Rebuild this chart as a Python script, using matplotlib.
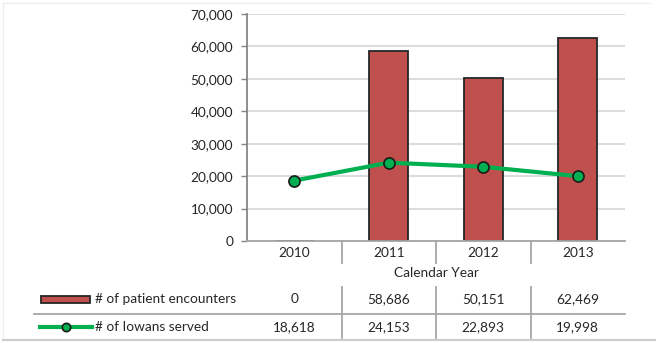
import matplotlib.pyplot as plt
import matplotlib.transforms as mtransforms
from matplotlib.patches import Rectangle
from matplotlib.lines import Line2D
import numpy as np

plt.rcParams['font.family'] = ['Lato', 'DejaVu Sans']

years = ['2010', '2011', '2012', '2013']
encounters = [0, 58686, 50151, 62469]
served = [18618, 24153, 22893, 19998]
enc_labels = ['0', '58,686', '50,151', '62,469']
served_labels = ['18,618', '24,153', '22,893', '19,998']

bar_color = '#C0504D'
line_color = '#00B050'
grid_color = '#D9D9D9'
axis_color = '#868686'
text_color = '#262626'
fs = 9.8

fig = plt.figure(figsize=(6.56, 3.43), dpi=100)
W, H = 656, 343
ax = fig.add_axes([247 / W, 1 - 241 / H, 378 / W, 227 / H])

x = np.arange(len(years))
ax.bar(x, encounters, width=0.41, color=bar_color, edgecolor='#262626', linewidth=1.3, zorder=2)
ax.plot(x, served, color=line_color, linewidth=3, marker='o', markersize=8,
        markerfacecolor=line_color, markeredgecolor='#1a1a1a', markeredgewidth=1.2, zorder=3)

ax.set_xlim(-0.5, 3.5)
ax.set_ylim(0, 70000)
ax.set_yticks(range(0, 70001, 10000))
ax.set_yticklabels([f'{v:,}' for v in range(0, 70001, 10000)], fontsize=fs, color=text_color)
ax.yaxis.grid(True, color=grid_color, linewidth=1.3, zorder=0)
ax.set_axisbelow(True)
ax.tick_params(axis='y', length=4, color=axis_color, width=1, pad=6)
ax.set_xticks([])
for s in ['top', 'right']:
    ax.spines[s].set_visible(False)
ax.spines['left'].set_color(axis_color)
ax.spines['left'].set_linewidth(1.3)
ax.spines['bottom'].set_color('#A6A6A6')
ax.spines['bottom'].set_linewidth(1.3)

# category labels and separators below the axis
trans = mtransforms.blended_transform_factory(ax.transData, fig.transFigure)
for i, yr in enumerate(years):
    fig.text(i, 1 - 253 / H, yr, transform=trans, ha='center', va='center', fontsize=fs, color=text_color)
for b in [0.5, 1.5, 2.5]:
    ax.add_line(Line2D([b, b], [1 - 241 / H, 1 - 263 / H], transform=trans, color='#A6A6A6',
                       linewidth=1.3, clip_on=False))
    ax.add_line(Line2D([b, b], [1 - 287 / H, 1 - 338 / H], transform=trans, color='#A6A6A6',
                       linewidth=1.3, clip_on=False))

fig.text(436 / W, 1 - 273 / H, 'Calendar Year', ha='center', va='center', fontsize=fs, color=text_color)

# data table
row1 = 1 - 299 / H
row2 = 1 - 327 / H
for i in range(len(years)):
    fig.text(i, row1, enc_labels[i], transform=trans, ha='center', va='center', fontsize=fs, color=text_color)
    fig.text(i, row2, served_labels[i], transform=trans, ha='center', va='center', fontsize=fs, color=text_color)

fig.add_artist(Line2D([34 / W, 625 / W], [1 - 314 / H, 1 - 314 / H], color='#A6A6A6', linewidth=1.3))

# legend keys in the table
fig.add_artist(Rectangle((41 / W, 1 - 303 / H), 49 / W, 7 / H, facecolor=bar_color,
                         edgecolor='#262626', linewidth=1.3))
fig.text(95 / W, row1, '# of patient encounters', ha='left', va='center', fontsize=fs, color=text_color)
fig.add_artist(Line2D([40 / W, 92 / W], [row2, row2], color=line_color, linewidth=3))
fig.add_artist(Line2D([66 / W], [row2], marker='o', markersize=6, color=line_color,
                      markerfacecolor=line_color, markeredgecolor='#1a1a1a', markeredgewidth=1.2))
fig.text(95 / W, row2, '# of Iowans served', ha='left', va='center', fontsize=fs, color=text_color)

# faint frame
fig.add_artist(Line2D([3 / W, 650 / W], [1 - 3 / H, 1 - 3 / H], color='#EEEEEE', linewidth=1))
fig.add_artist(Line2D([3 / W, 3 / W], [1 - 3 / H, 1 - 340 / H], color='#EEEEEE', linewidth=1))
fig.add_artist(Line2D([3 / W, 656 / W], [1 - 340 / H, 1 - 340 / H], color='#CCCCCC', linewidth=1.5))

fig.savefig('out.png', dpi=100)
